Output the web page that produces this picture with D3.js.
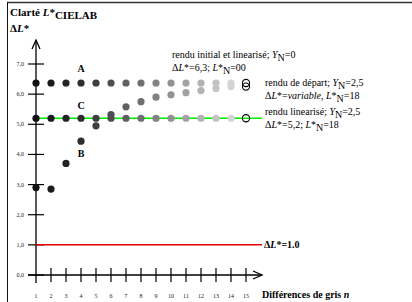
<!DOCTYPE html>
<html>
<head>
<meta charset="utf-8">
<script src="https://d3js.org/d3.v7.min.js"></script>
<style>
  html, body { margin: 0; padding: 0; background: #fff; }
  svg { display: block; }
  svg text { font-family: "Times New Roman", "Liberation Serif", "DejaVu Serif", serif; }
</style>
</head>
<body>
<div id="chart"></div>
<script>
  // grey steps n
  var steps = [1, 2, 3, 4, 5, 6, 7, 8, 9, 10, 11, 12, 13, 14, 15];
  // series A: rendu initial et linearise (YN=0)
  var seriesA = [6.37, 6.37, 6.37, 6.37, 6.37, 6.37, 6.37, 6.37, 6.37, 6.37, 6.37, 6.37, 6.37, 6.37, 6.37];
  // series B: rendu de depart (YN=2,5, variable)
  var seriesB = [2.9, 2.85, 3.7, 4.44, 4.95, 5.32, 5.58, 5.75, 5.9, 5.98, 6.05, 6.12, 6.19, 6.25, 6.25];
  // series C: rendu linearise (YN=2,5)
  var seriesC = [5.2, 5.2, 5.2, 5.2, 5.2, 5.2, 5.2, 5.2, 5.2, 5.2, 5.2, 5.2, 5.2, 5.2, 5.2];
  var yTicks = [0, 1, 2, 3, 4, 5, 6, 7];
  var yTickLabels = ["0,0", "1,0", "2,0", "3,0", "4,0", "5,0", "6,0", "7,0"];
  var refLine = 1.0;
  var greenLine = 5.2;

  var W = 412, H = 302;
  var svg = d3.select("#chart").append("svg").attr("width", W).attr("height", H)
    .attr("font-family", "'Times New Roman', 'Liberation Serif', serif");

  var x = d3.scaleLinear().domain([1, 15]).range([36, 246]);
  var y = d3.scaleLinear().domain([0, 7]).range([275, 64]);
  var grey = d3.scaleLinear().domain([1, 4, 14]).range(["#111", "#2e2e2e", "#d4d4d4"]);

  // frame
  svg.append("line").attr("x1", 7).attr("y1", 2.5).attr("x2", W).attr("y2", 2.5)
    .attr("stroke", "#333").attr("stroke-width", 1.5);
  svg.append("line").attr("x1", 7.5).attr("y1", 2).attr("x2", 7.5).attr("y2", H)
    .attr("stroke", "#111").attr("stroke-width", 1);

  // title
  var t = svg.append("text").attr("x", 10).attr("y", 16).attr("font-size", 11).attr("font-weight", "bold");
  t.append("tspan").text("Clarté ");
  t.append("tspan").attr("font-style", "italic").text("L");
  t.append("tspan").text("*");
  t.append("tspan").attr("dy", 3).text("CIELAB");
  var t2 = svg.append("text").attr("x", 10).attr("y", 32).attr("font-size", 11).attr("font-weight", "bold");
  t2.append("tspan").text("Δ");
  t2.append("tspan").attr("font-style", "italic").text("L");
  t2.append("tspan").text("*");

  // axes
  svg.append("line").attr("x1", x(1)).attr("y1", 283).attr("x2", x(1)).attr("y2", 40)
    .attr("stroke", "#000").attr("stroke-width", 1.3);
  svg.append("path").attr("d", "M" + (x(1) - 4) + ",49 L" + x(1) + ",40 L" + (x(1) + 4) + ",49")
    .attr("fill", "none").attr("stroke", "#000").attr("stroke-width", 1.3);
  svg.append("line").attr("x1", 28).attr("y1", y(0)).attr("x2", 262).attr("y2", y(0))
    .attr("stroke", "#000").attr("stroke-width", 1.3);
  svg.append("path").attr("d", "M253," + (y(0) - 4) + " L262," + y(0) + " L253," + (y(0) + 4))
    .attr("fill", "none").attr("stroke", "#000").attr("stroke-width", 1.3);

  // y ticks
  svg.selectAll(".ytick").data(yTicks).enter().append("line")
    .attr("x1", 28).attr("x2", 44)
    .attr("y1", function (d) { return y(d); }).attr("y2", function (d) { return y(d); })
    .attr("stroke", "#000").attr("stroke-width", 1.2);
  svg.selectAll(".ylab").data(yTicks).enter().append("text")
    .attr("x", 24).attr("y", function (d) { return y(d) + 2; })
    .attr("text-anchor", "end").attr("font-size", 6).attr("fill", "#222")
    .text(function (d, i) { return yTickLabels[i]; });

  // x ticks
  svg.selectAll(".xtick").data(steps.slice(1)).enter().append("line")
    .attr("x1", function (d) { return x(d); }).attr("x2", function (d) { return x(d); })
    .attr("y1", 268).attr("y2", 282)
    .attr("stroke", "#000").attr("stroke-width", 1.2);
  svg.selectAll(".xlab").data(steps).enter().append("text")
    .attr("x", function (d) { return x(d); }).attr("y", 298)
    .attr("text-anchor", "middle").attr("font-size", 6).attr("fill", "#222")
    .text(function (d) { return d; });

  var xl = svg.append("text").attr("x", 262).attr("y", 298).attr("font-size", 10).attr("font-weight", "bold");
  xl.append("tspan").text("Différences de gris ");
  xl.append("tspan").attr("font-style", "italic").text("n");

  // reference lines
  svg.append("line").attr("x1", x(1)).attr("x2", 262).attr("y1", y(refLine)).attr("y2", y(refLine))
    .attr("stroke", "#e00000").attr("stroke-width", 1.5);
  var rl = svg.append("text").attr("x", 264).attr("y", y(refLine) + 3.5).attr("font-size", 10).attr("font-weight", "bold");
  rl.append("tspan").text("Δ");
  rl.append("tspan").attr("font-style", "italic").text("L");
  rl.append("tspan").text("*=1.0");

  svg.append("line").attr("x1", x(1)).attr("x2", 262).attr("y1", y(greenLine)).attr("y2", y(greenLine))
    .attr("stroke", "#00ee00").attr("stroke-width", 1.5);

  // dots
  function drawSeries(vals) {
    svg.append("g").selectAll("circle").data(vals.slice(0, 14)).enter().append("circle")
      .attr("cx", function (d, i) { return x(steps[i]); })
      .attr("cy", function (d) { return y(d); })
      .attr("r", 3.6)
      .attr("fill", function (d, i) { return grey(steps[i]); });
    svg.append("circle").attr("cx", x(15)).attr("cy", y(vals[14])).attr("r", 3.6)
      .attr("fill", "none").attr("stroke", "#000").attr("stroke-width", 1.1);
  }
  drawSeries(seriesC);
  drawSeries(seriesB);
  drawSeries(seriesA);

  // letters
  function letter(s, n, v) {
    svg.append("text").attr("x", x(n)).attr("y", y(v)).attr("text-anchor", "middle")
      .attr("font-size", 10).attr("font-weight", "bold").text(s);
  }
  letter("A", 4, 6.72);
  letter("C", 4, 5.5);
  letter("B", 4, 3.92);

  // annotations
  function note(xp, yp, parts) {
    var tx = svg.append("text").attr("x", xp).attr("y", yp).attr("font-size", 10);
    parts.forEach(function (p) {
      var s = tx.append("tspan").text(p[0]);
      if (p[1] === "i") s.attr("font-style", "italic");
      if (p[1] === "sub") s.attr("dy", 3);
      if (p[1] === "up") s.attr("dy", -3);
    });
  }
  note(172, 58, [["rendu initial et linearisé; "], ["Y", "i"], ["N", "sub"], ["=0", "up"]]);
  note(172, 71, [["Δ"], ["L", "i"], ["*=6,3; "], ["L", "i"], ["*"], ["N", "sub"], ["=00", "up"]]);
  note(265, 86, [["rendu de départ; "], ["Y", "i"], ["N", "sub"], ["=2,5", "up"]]);
  note(265, 99, [["Δ"], ["L", "i"], ["*="], ["variable", "i"], [", "], ["L", "i"], ["*"], ["N", "sub"], ["=18", "up"]]);
  note(265, 115, [["rendu linearisé; "], ["Y", "i"], ["N", "sub"], ["=2,5", "up"]]);
  note(265, 128, [["Δ"], ["L", "i"], ["*=5,2; "], ["L", "i"], ["*"], ["N", "sub"], ["=18", "up"]]);
</script>
</body>
</html>
